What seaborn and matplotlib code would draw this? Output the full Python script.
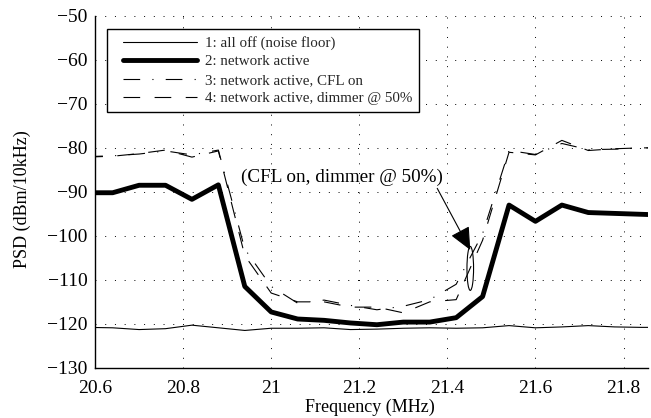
import matplotlib
matplotlib.use("Agg")
import matplotlib.pyplot as plt
import seaborn as sns
from matplotlib.patches import Ellipse
from matplotlib.lines import Line2D
from matplotlib.legend_handler import HandlerLine2D
from matplotlib.ticker import FormatStrFormatter

# frequency points (MHz), sweep step 0.06
freq = [20.58, 20.64, 20.70, 20.76, 20.82, 20.88, 20.94, 21.00, 21.06, 21.12, 21.18, 21.24,
        21.30, 21.36, 21.42, 21.48, 21.54, 21.60, 21.66, 21.72, 21.78, 21.84, 21.90]

# PSD readings (dBm/10kHz)
all_off = [-120.8, -120.9, -121.3, -121.1, -120.3, -120.9, -121.5, -121.0, -121.0, -120.9, -121.3, -121.2,
           -121.0, -120.9, -121.0, -120.9, -120.4, -120.9, -120.7, -120.4, -120.7, -120.8, -120.8]
net_active = [-90.2, -90.2, -88.5, -88.5, -91.7, -88.4, -111.5, -117.3, -118.9, -119.2, -119.8, -120.2,
              -119.6, -119.6, -118.6, -113.8, -93.0, -96.7, -93.0, -94.7, -94.9, -95.1, -95.3]
cfl_on = [-82.0, -81.8, -81.4, -80.7, -81.6, -80.5, -103.0, -111.5, -115.3, -114.6, -115.8, -116.8,
          -116.0, -114.5, -111.0, -99.5, -80.6, -81.5, -79.0, -80.4, -80.3, -80.0, -80.0]
dimmer = [-82.1, -81.9, -81.3, -80.5, -82.1, -80.7, -104.5, -113.0, -115.0, -115.0, -116.2, -116.2,
          -117.5, -115.0, -114.5, -101.0, -81.0, -81.6, -78.3, -80.6, -80.2, -80.0, -80.0]

labels = ["1: all off (noise floor)", "2: network active",
          "3: network active, CFL on", "4: network active, dimmer @ 50%"]

sns.set_theme(style="white")
plt.rcParams["font.family"] = ["Liberation Serif", "DejaVu Serif"]
plt.rcParams["axes.unicode_minus"] = True

fig, ax = plt.subplots(figsize=(6.51, 4.18), dpi=100)
fig.subplots_adjust(left=0.146, right=0.995, top=0.962, bottom=0.12)

sns.lineplot(x=freq, y=all_off, ax=ax, color="black", lw=0.8, label=labels[0])
sns.lineplot(x=freq, y=net_active, ax=ax, color="black", lw=3.5, label=labels[1])
sns.lineplot(x=freq, y=cfl_on, ax=ax, color="black", lw=0.8,
             linestyle=(0, (15, 11, 1, 11)), label=labels[2])
sns.lineplot(x=freq, y=dimmer, ax=ax, color="black", lw=0.8,
             linestyle=(0, (15, 13)), label=labels[3])

ax.set_xlim(20.6, 21.855)
ax.set_ylim(-130, -50)
ax.set_xticks([20.6, 20.8, 21.0, 21.2, 21.4, 21.6, 21.8])
ax.set_yticks(range(-130, -49, 10))
ax.xaxis.set_major_formatter(FormatStrFormatter("%g"))
ax.grid(True, color="black", linestyle=(0, (1, 9)), lw=0.7)

for side in ["top", "right"]:
    ax.spines[side].set_visible(False)
for side in ["left", "bottom"]:
    ax.spines[side].set_color("black")
    ax.spines[side].set_linewidth(1.0)
ax.tick_params(direction="in", length=4, width=0.8, color="black",
               labelsize=14, labelcolor="black")
ax.tick_params(axis="x", pad=8.5)
ax.tick_params(axis="y", pad=5.5)

ax.set_xlabel("Frequency (MHz)", fontsize=13, color="black")
ax.set_ylabel("PSD (dBm/10kHz)", fontsize=13, color="black")
ax.xaxis.set_label_coords(0.497, -0.088)
ax.yaxis.set_label_coords(-0.116, 0.48)

# annotation of the CFL + dimmer trace
ax.add_patch(Ellipse((21.452, -107.4), 0.015, 10, fill=False, edgecolor="black", lw=0.8))
ax.text(21.16, -86.8, "(CFL on, dimmer @ 50%)", ha="center", va="center", fontsize=13.8, color="black")
ax.annotate("", xy=(21.452, -103.2), xytext=(21.377, -89.2),
            arrowprops=dict(arrowstyle="-|>,head_length=0.7,head_width=0.32",
                            mutation_scale=20, color="black", lw=0.8, shrinkA=0, shrinkB=0))

leg = ax.legend(loc="upper left", bbox_to_anchor=(0.021, 0.962), borderaxespad=0,
                fontsize=10.8, handlelength=5.6, handletextpad=0.49, labelspacing=0.33,
                borderpad=0.45, fancybox=False, framealpha=1, edgecolor="black",
                handler_map={Line2D: HandlerLine2D(xpad=0.64)})
leg.get_frame().set_linewidth(1.0)

fig.savefig("out.png", dpi=100)
